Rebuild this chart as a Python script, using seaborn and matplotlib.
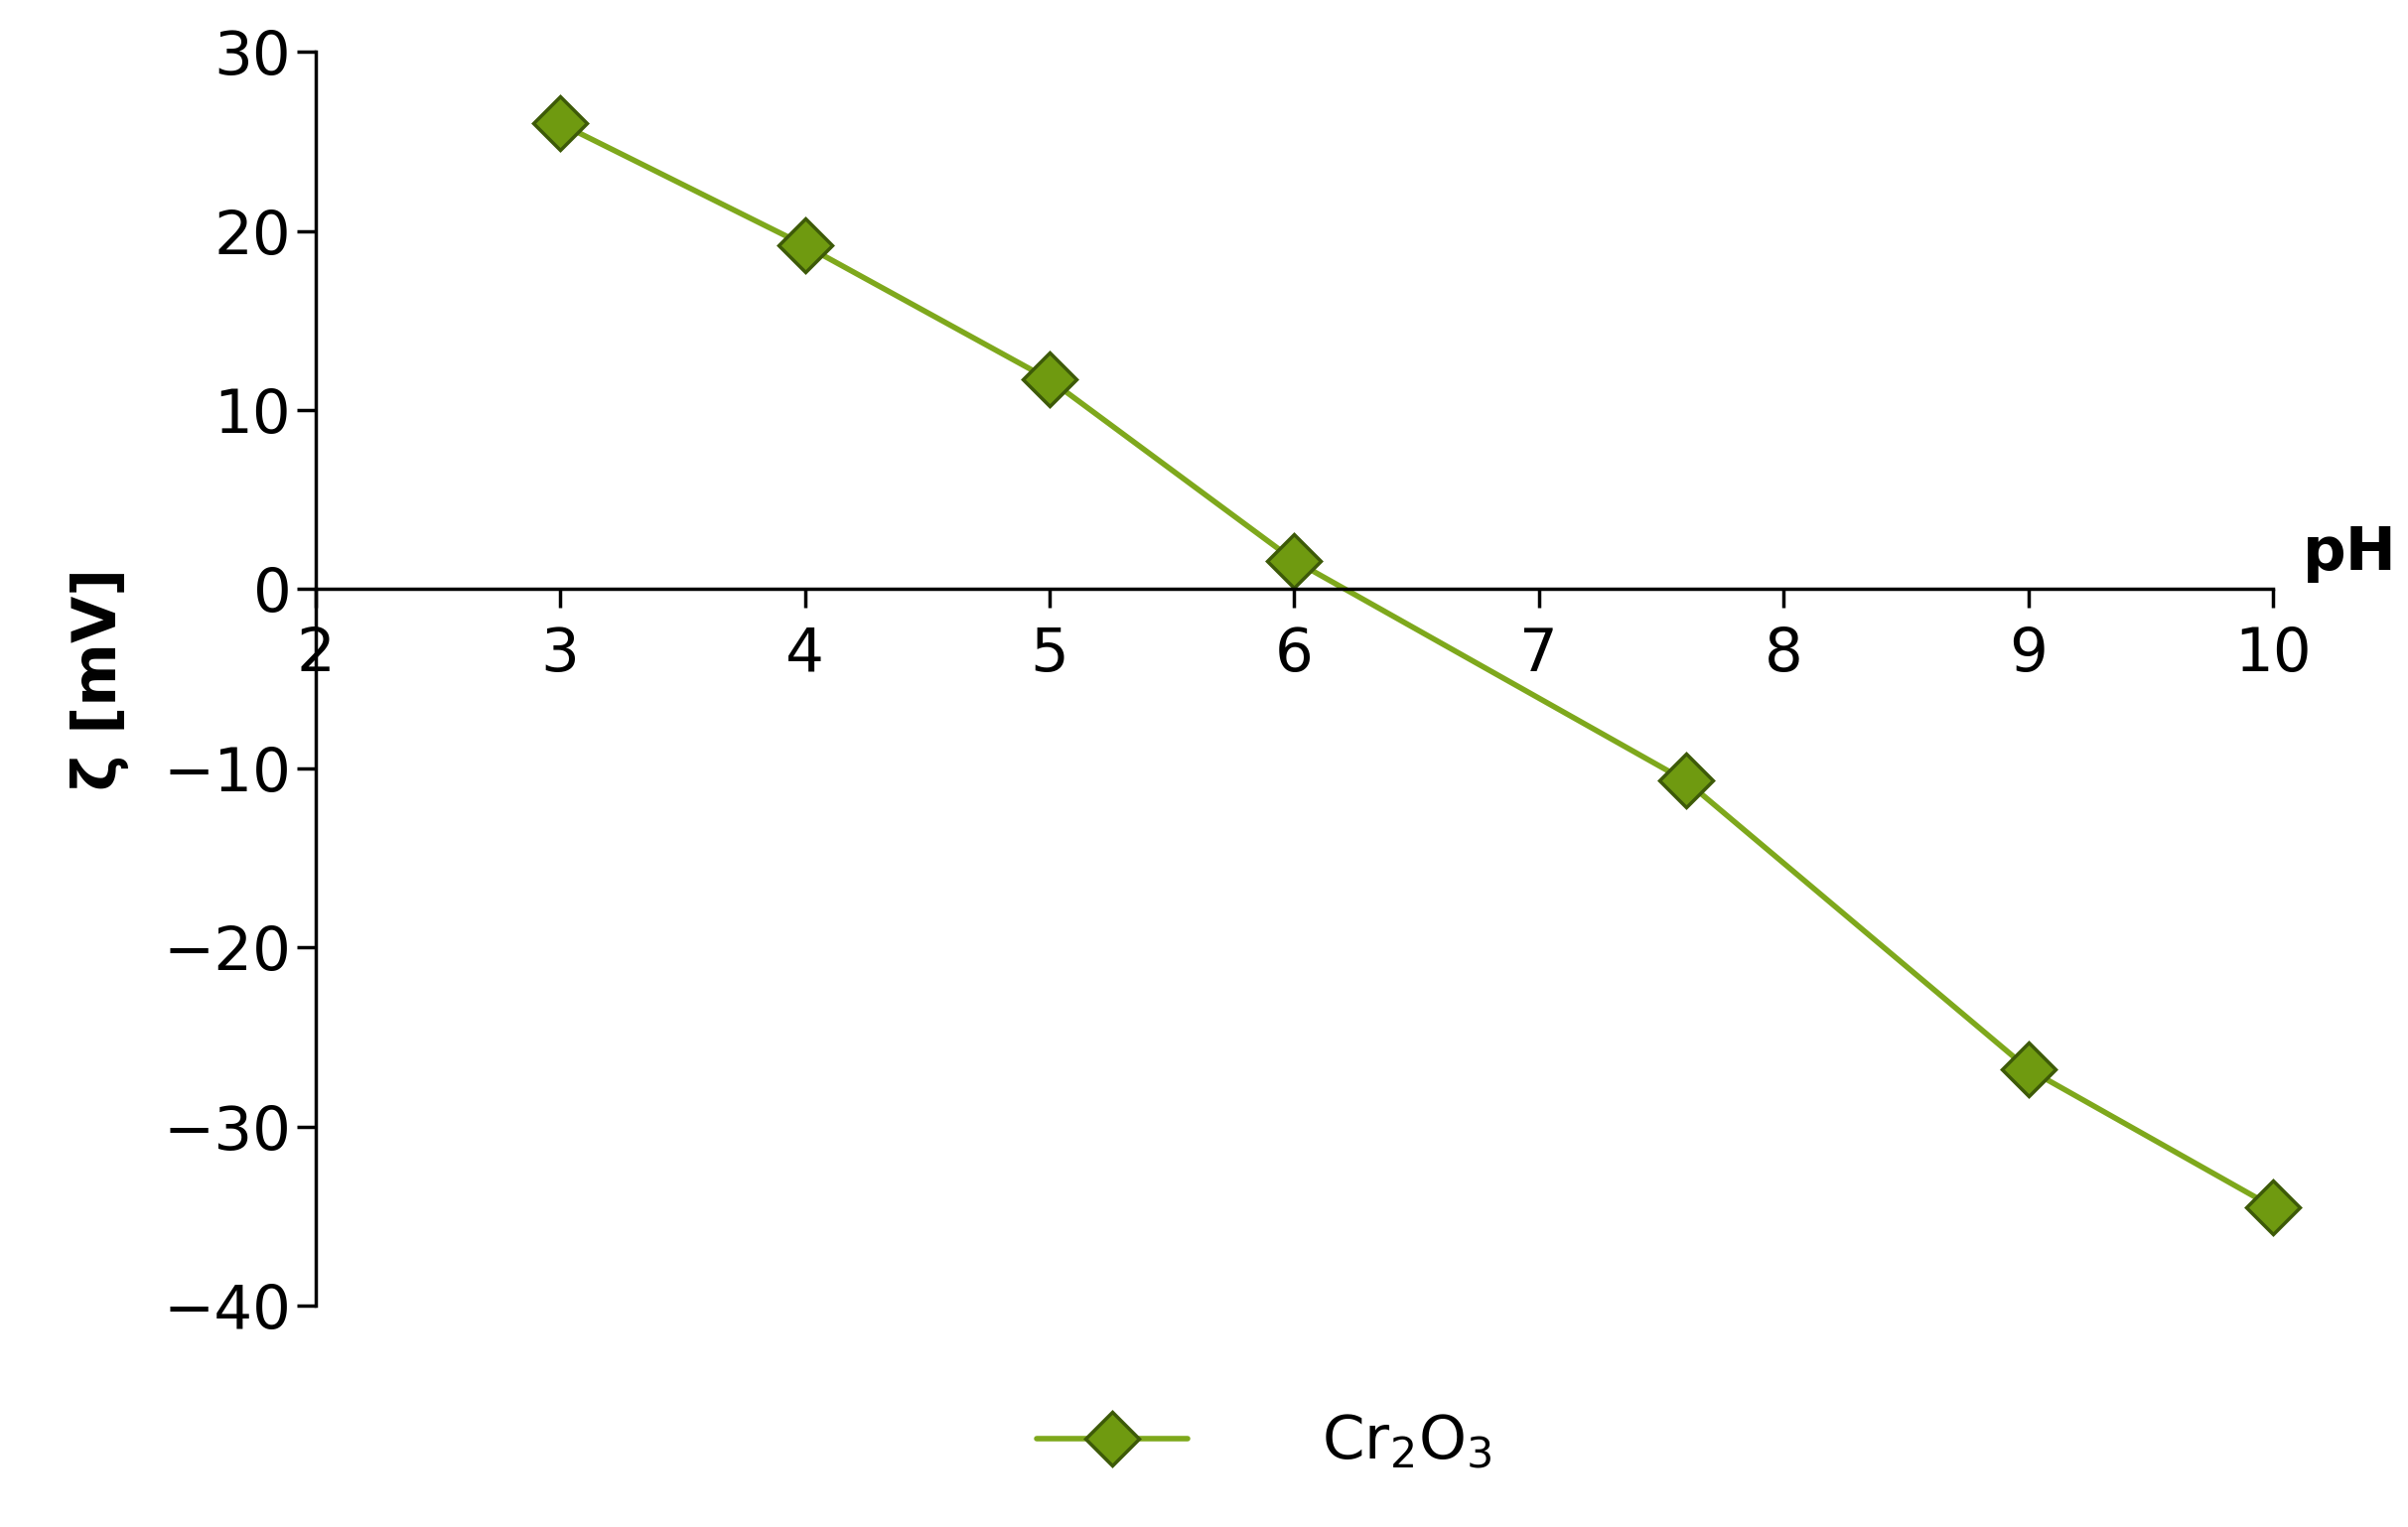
import matplotlib
matplotlib.use("Agg")
import matplotlib.pyplot as plt
import seaborn as sns
import pandas as pd

ph = [3, 4, 5, 6, 7.6, 9, 10]
zeta = [26.0, 19.2, 11.7, 1.6, -10.7, -26.8, -34.5]
series_label = "Cr$_2$O$_3$"

sns.set_style("white")
plt.rcParams["font.family"] = ["DejaVu Sans"]
plt.rcParams["text.color"] = "black"
plt.rcParams["axes.labelcolor"] = "black"

df = pd.DataFrame({"pH": ph, "zeta": zeta, "s": series_label})

fig = plt.figure(figsize=(24.25, 15.38), dpi=100)
ax = fig.add_axes([0.131, 0.145, 0.813, 0.821])
sns.lineplot(data=df, x="pH", y="zeta", hue="s", palette=["#7ea81c"], marker="D",
             markersize=27, markerfacecolor="#6f9a10", markeredgecolor="#3d5a08",
             markeredgewidth=2.5, linewidth=4, ax=ax, legend=False, clip_on=False)

ax.set_xlim(2, 10)
ax.set_ylim(-40, 30)
ax.set_xticks(range(2, 11))
ax.set_yticks(range(-40, 31, 10))
ax.set_yticklabels([str(v).replace("-", "\u2212") for v in range(-40, 31, 10)])
ax.spines["left"].set_position(("data", 2))
ax.spines["bottom"].set_position(("data", 0))
ax.spines["right"].set_visible(False)
ax.spines["top"].set_visible(False)
for s in ("left", "bottom"):
    ax.spines[s].set_linewidth(2.5)
    ax.spines[s].set_color("black")
ax.tick_params(axis="both", labelsize=44, width=2.5, length=14, direction="out",
               left=True, bottom=True, colors="black")
ax.tick_params(axis="x", pad=12)
ax.set_xlabel("")
ax.set_ylabel("ζ [mV]", fontsize=44, fontweight="bold", labelpad=25)
ax.text(1.015, 0.6, "pH", transform=ax.transAxes, fontsize=44, fontweight="bold",
        ha="left", va="center")

h = plt.Line2D([], [], color="#7ea81c", linewidth=4, marker="D", markersize=27,
               markerfacecolor="#6f9a10", markeredgecolor="#3d5a08", markeredgewidth=2.5)
fig.legend([h], [series_label], loc="lower center", bbox_to_anchor=(0.525, 0.0),
           frameon=False, fontsize=44, handlelength=2.5, handletextpad=2.2)

fig.savefig("out.png", dpi=100)
